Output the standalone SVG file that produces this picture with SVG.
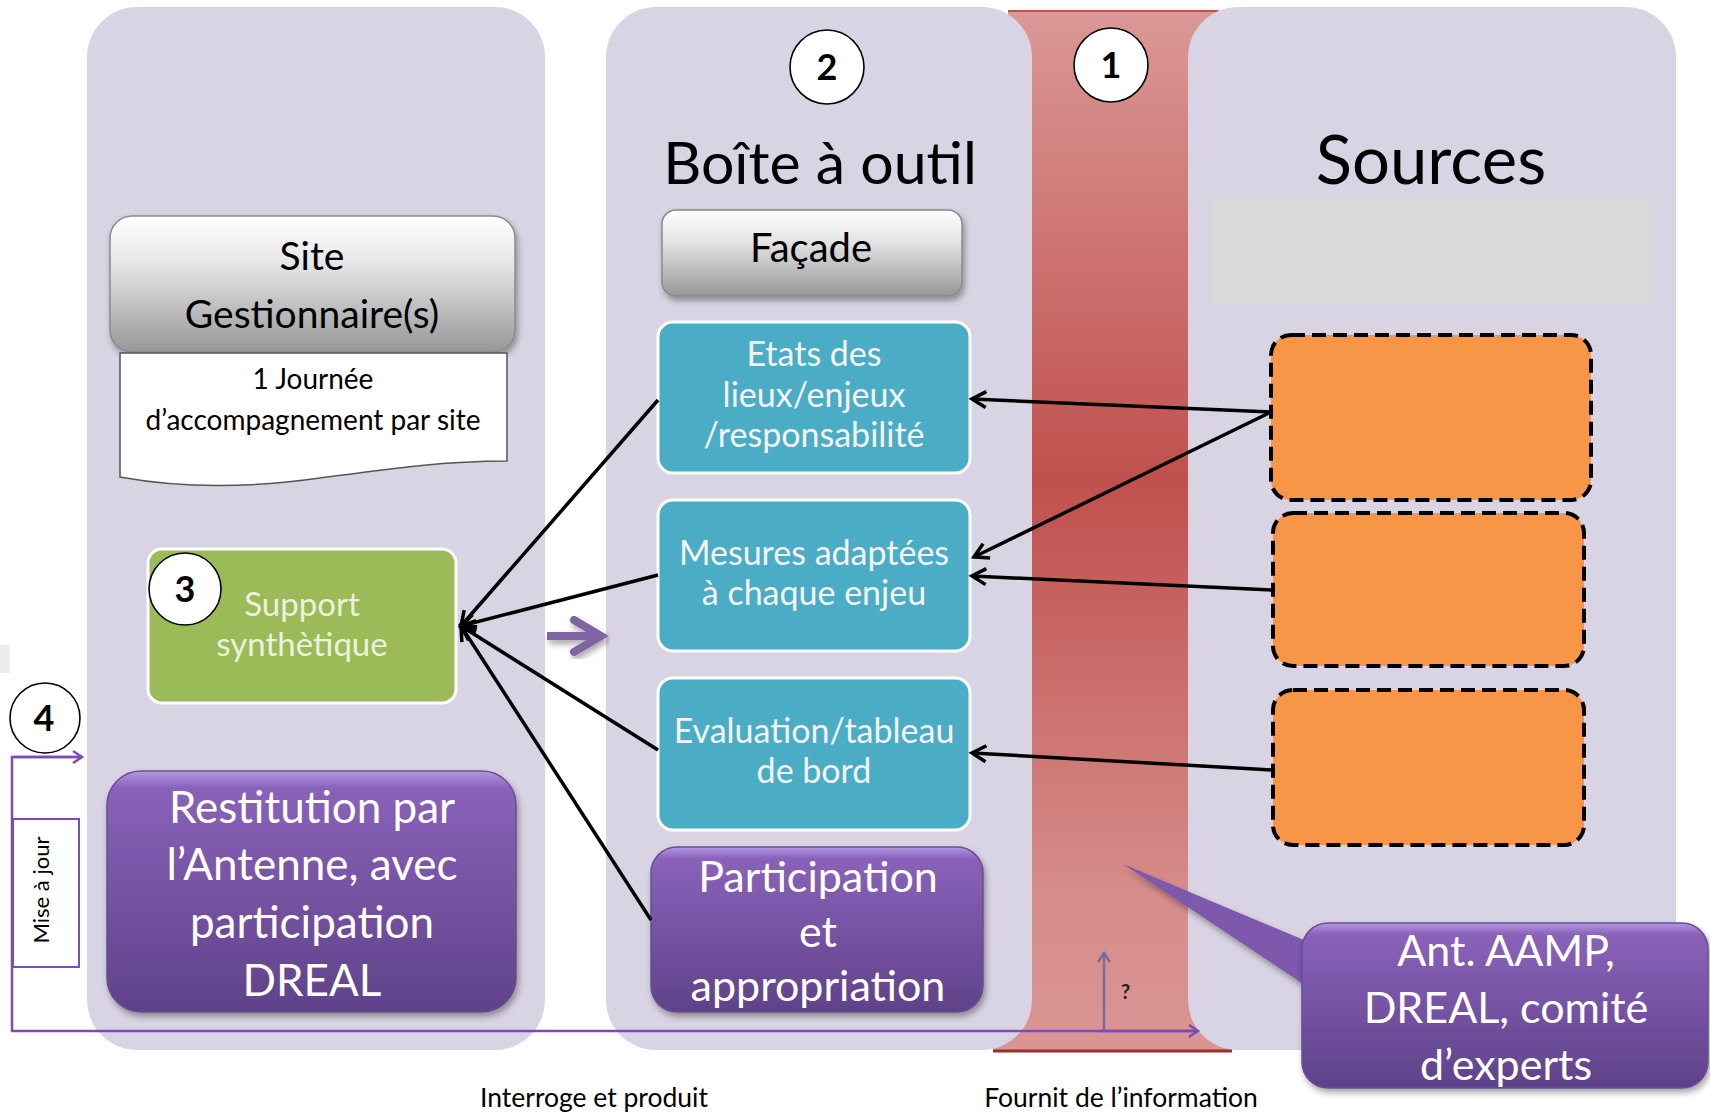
<svg xmlns="http://www.w3.org/2000/svg" width="1710" height="1114" viewBox="0 0 1710 1114">
<defs>
<linearGradient id="gRed" x1="0" y1="0" x2="0" y2="1">
<stop offset="0" stop-color="#db9896"/>
<stop offset="0.45" stop-color="#c0504d"/>
<stop offset="0.85" stop-color="#d68d8b"/>
<stop offset="1" stop-color="#d99594"/>
</linearGradient>
<linearGradient id="gGrey" x1="0" y1="0" x2="0" y2="1">
<stop offset="0" stop-color="#ffffff"/>
<stop offset="0.35" stop-color="#e6e6e6"/>
<stop offset="1" stop-color="#979797"/>
</linearGradient>
<linearGradient id="gPurple" x1="0" y1="0" x2="0" y2="1">
<stop offset="0" stop-color="#b596e4"/>
<stop offset="0.07" stop-color="#8962b9"/>
<stop offset="1" stop-color="#5f4289"/>
</linearGradient>
<filter id="sh" x="-10%" y="-10%" width="125%" height="130%">
<feDropShadow dx="2" dy="4" stdDeviation="3" flood-color="#000" flood-opacity="0.35"/>
</filter>
<marker id="arr" markerUnits="userSpaceOnUse" markerWidth="24" markerHeight="24" refX="18" refY="10" orient="auto">
<path d="M4,2 L18,10 L4,18" fill="none" stroke="#000" stroke-width="3.5" stroke-linejoin="miter"/>
</marker>
<marker id="arrP" markerUnits="userSpaceOnUse" markerWidth="16" markerHeight="16" refX="12" refY="8" orient="auto">
<path d="M3,2 L12,8 L3,14" fill="none" stroke="#7b4bb8" stroke-width="2.5"/>
</marker>
<marker id="arrG" markerUnits="userSpaceOnUse" markerWidth="16" markerHeight="16" refX="12" refY="8" orient="auto">
<path d="M3,2 L12,8 L3,14" fill="none" stroke="#7a6aa0" stroke-width="2.5"/>
</marker>
<style>
text{font-family:Lato,"Open Sans","Liberation Sans",sans-serif;}
.panel{fill:#d8d4e3;}
.grey{fill:url(#gGrey);stroke:#8a8a8a;stroke-width:1.5;filter:url(#sh);}
.blue{fill:#4bacc6;stroke:#ffffff;stroke-width:3;}
.bt{fill:#f4f4f4;font-size:34px;text-anchor:middle;}
.purple{fill:url(#gPurple);stroke:#6a4d94;stroke-width:1.5;filter:url(#sh);}
.pt{fill:#ffffff;font-size:44px;text-anchor:middle;}
.pt43{fill:#ffffff;font-size:43px;text-anchor:middle;}
.orange{fill:#f79646;stroke:#000;stroke-width:4;stroke-dasharray:14 7;}
.circ{fill:#ffffff;stroke:#000;stroke-width:1.6;}
.num{font-size:36px;font-weight:bold;text-anchor:middle;fill:#000;}
.conn{stroke:#000;stroke-width:3.5;fill:none;}
</style>
</defs>
<rect width="1710" height="1114" fill="#ffffff"/>
<rect x="0" y="645" width="10" height="28" fill="#ececec"/>

<!-- red band -->
<g id="band">
<polygon points="1008,11 1219,11 1232,1052 993,1052" fill="url(#gRed)"/>
<line x1="1008" y1="11" x2="1219" y2="11" stroke="#c0504d" stroke-width="2"/>
<line x1="993" y1="1051" x2="1232" y2="1051" stroke="#9c2f2c" stroke-width="3"/>
</g>

<!-- panels -->
<g id="panel-left"><rect class="panel" x="87" y="7" width="458" height="1043" rx="50"/></g>
<g id="panel-middle"><rect class="panel" x="606" y="7" width="426" height="1043" rx="50"/></g>
<g id="panel-sources"><rect class="panel" x="1188" y="7" width="488" height="1043" rx="50"/></g>

<g id="circle-1"><circle class="circ" cx="1111" cy="65" r="37"/><text class="num" x="1111" y="78">1</text></g>
<g id="circle-2"><circle class="circ" cx="827" cy="67" r="37"/><text class="num" x="827" y="80">2</text></g>

<g id="title-boite"><text x="820" y="184" font-size="59" text-anchor="middle" fill="#000">Boîte à outil</text></g>
<g id="title-sources"><text x="1431" y="184" font-size="67" text-anchor="middle" fill="#000">Sources</text></g>
<g id="sources-band"><rect x="1211" y="199" width="439" height="104" fill="#d9d9d9"/></g>

<!-- Site -->
<g id="site">
<rect class="grey" x="110" y="216" width="405" height="136" rx="22"/>
<text x="312" y="270" font-size="39" text-anchor="middle" fill="#000">Site</text>
<text x="312" y="328" font-size="39" text-anchor="middle" fill="#000">Gestionnaire(s)</text>
</g>
<g id="journee">
<path d="M120,353 H507 V461 C440,461 380,470 320,478 C250,488 180,488 120,477 Z" fill="#ffffff" stroke="#555" stroke-width="1.5"/>
<text x="313" y="389" font-size="28" text-anchor="middle" fill="#000">1 Journée</text>
<text x="313" y="430" font-size="28" text-anchor="middle" fill="#000">d’accompagnement par site</text>
</g>

<!-- Façade -->
<g id="facade">
<rect class="grey" x="662" y="210" width="300" height="86" rx="14"/>
<text x="811" y="262" font-size="40" text-anchor="middle" fill="#000">Façade</text>
</g>

<!-- blue boxes -->
<g id="etats">
<rect class="blue" x="658" y="322" width="312" height="151" rx="15"/>
<text class="bt" x="814" y="366">Etats des</text>
<text class="bt" x="814" y="407">lieux/enjeux</text>
<text class="bt" x="814" y="447">/responsabilité</text>
</g>
<g id="mesures">
<rect class="blue" x="658" y="500" width="312" height="151" rx="15"/>
<text class="bt" x="814" y="565">Mesures adaptées</text>
<text class="bt" x="814" y="605">à chaque enjeu</text>
</g>
<g id="evaluation">
<rect class="blue" x="658" y="678" width="312" height="152" rx="15"/>
<text class="bt" x="814" y="743">Evaluation/tableau</text>
<text class="bt" x="814" y="783">de bord</text>
</g>

<!-- Participation -->
<g id="participation">
<rect class="purple" x="651" y="847" width="332" height="165" rx="26"/>
<text class="pt43" x="818" y="892">Participation</text>
<text class="pt43" x="818" y="947">et</text>
<text class="pt43" x="818" y="1001">appropriation</text>
</g>

<!-- Support -->
<g id="support">
<rect x="148" y="549" width="308" height="154" rx="14" fill="#9bbb59" stroke="#ffffff" stroke-width="3"/>
<text x="302" y="616" font-size="33" text-anchor="middle" fill="#ebf1de">Support</text>
<text x="302" y="656" font-size="33" text-anchor="middle" fill="#ebf1de">synthètique</text>
</g>
<g id="circle-3"><circle class="circ" cx="185" cy="589" r="36"/><text class="num" x="185" y="602">3</text></g>

<!-- Restitution -->
<g id="restitution">
<rect class="purple" x="107" y="771" width="409" height="241" rx="34"/>
<text class="pt" x="312" y="823">Restitution par</text>
<text class="pt" x="312" y="880">l’Antenne, avec</text>
<text class="pt" x="312" y="938">participation</text>
<text class="pt" x="312" y="996">DREAL</text>
</g>

<!-- orange sources -->
<g id="source-1"><rect class="orange" x="1271" y="335" width="320" height="165" rx="20"/></g>
<g id="source-2"><rect class="orange" x="1273" y="513" width="311" height="153" rx="20"/></g>
<g id="source-3"><rect class="orange" x="1273" y="690" width="311" height="155" rx="20"/></g>

<!-- callout -->
<g id="callout">
<path d="M1123,864 Q1220,905 1318,946 L1318,994 Q1215,925 1123,864 Z" fill="#7d58ad" filter="url(#sh)"/>
<rect class="purple" x="1302" y="923" width="406" height="165" rx="26"/>
<text class="pt43" x="1506" y="966">Ant. AAMP,</text>
<text class="pt43" x="1506" y="1023">DREAL, comité</text>
<text class="pt43" x="1506" y="1080">d’experts</text>
</g>

<!-- circle 4 and Mise à jour -->
<g id="circle-4"><circle class="circ" cx="45" cy="718" r="35"/><text class="num" x="44" y="731">4</text></g>
<g id="mise-a-jour">
<rect x="13" y="819" width="66" height="148" fill="#ffffff" stroke="#7b4bb8" stroke-width="2"/>
<text x="0" y="0" font-size="22" text-anchor="middle" fill="#000" transform="translate(49,890) rotate(-90)">Mise à jour</text>
</g>

<!-- connectors -->
<g id="connectors">
<line class="conn" x1="1271" y1="412" x2="972" y2="399" marker-end="url(#arr)"/>
<line class="conn" x1="1271" y1="412" x2="974" y2="557" marker-end="url(#arr)"/>
<line class="conn" x1="1273" y1="590" x2="972" y2="576" marker-end="url(#arr)"/>
<line class="conn" x1="1273" y1="770" x2="972" y2="753" marker-end="url(#arr)"/>
<line class="conn" x1="658" y1="400" x2="461" y2="626" marker-end="url(#arr)"/>
<line class="conn" x1="658" y1="575" x2="461" y2="626" marker-end="url(#arr)"/>
<line class="conn" x1="658" y1="750" x2="461" y2="626" marker-end="url(#arr)"/>
<line class="conn" x1="651" y1="920" x2="461" y2="626" marker-end="url(#arr)"/>
<g id="purple-arrow" filter="url(#sh)">
<line x1="547" y1="636" x2="598" y2="636" stroke="#8064a2" stroke-width="8"/>
<path d="M574,620 L601,636 L574,652" fill="none" stroke="#8064a2" stroke-width="8" stroke-linecap="round"/>
</g>
<polyline points="82,757 12,757 12,1031 1197,1031" fill="none" stroke="#7b4bb8" stroke-width="2.5"/>
<line x1="14" y1="757" x2="82" y2="757" stroke="#7b4bb8" stroke-width="2.5" marker-end="url(#arrP)"/>
<line x1="1100" y1="1031" x2="1198" y2="1031" stroke="#7b4bb8" stroke-width="2.5" marker-end="url(#arrP)"/>
<line x1="1104" y1="1031" x2="1104" y2="953" stroke="#7a6aa0" stroke-width="2.5" marker-end="url(#arrG)"/>
<text x="1121" y="999" font-size="20" font-weight="bold" fill="#222">?</text>
</g>

<!-- bottom labels -->
<g id="labels">
<text x="594" y="1107" font-size="26.5" text-anchor="middle" fill="#000">Interroge et produit</text>
<text x="1121" y="1107" font-size="26.5" text-anchor="middle" fill="#000">Fournit de l’information</text>
</g>
</svg>
